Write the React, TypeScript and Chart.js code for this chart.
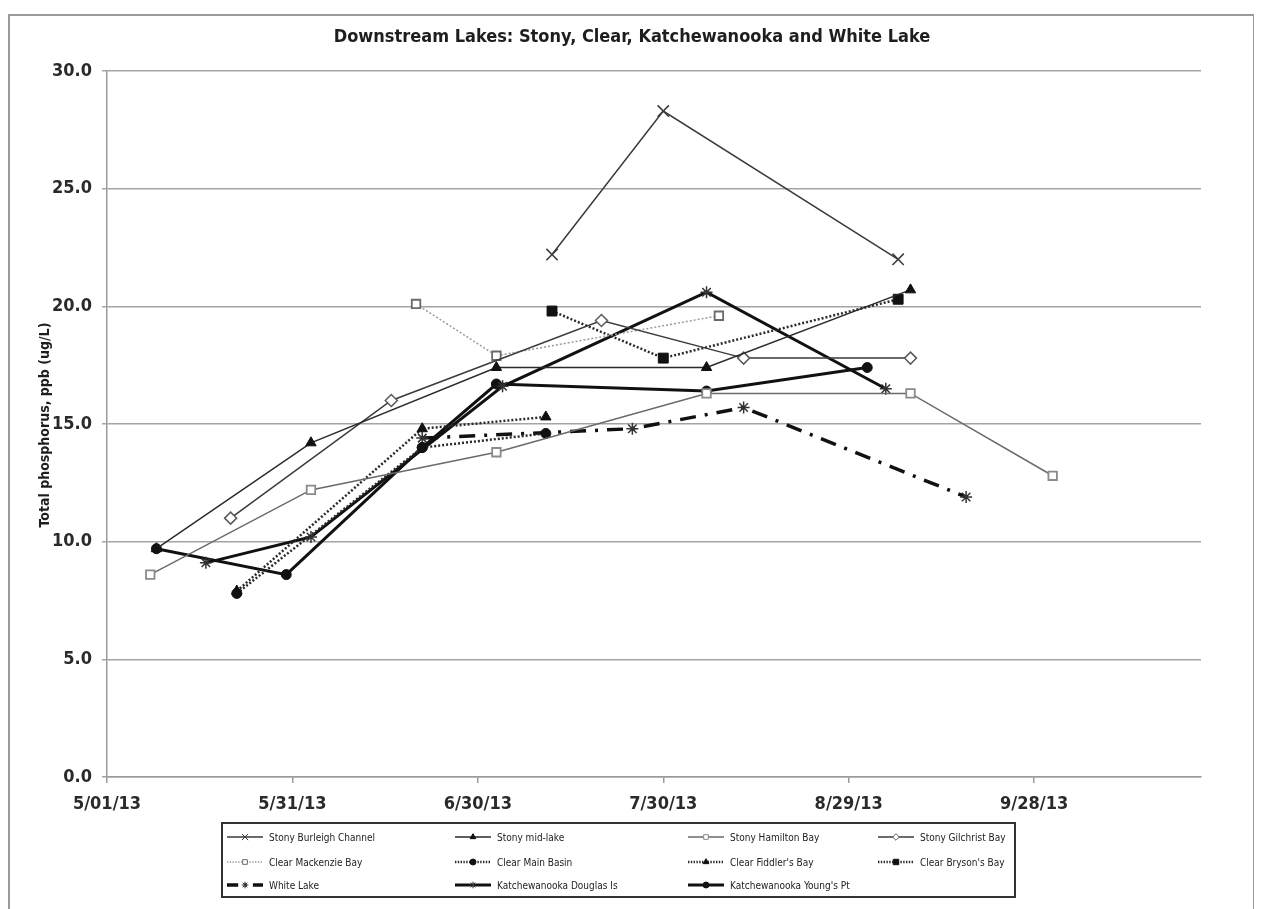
import React, { useEffect, useRef } from 'react';
import { Chart, registerables } from 'chart.js';
import { drawPoint } from 'chart.js/helpers';

Chart.register(...registerables);

const FONT = "'Liberation Sans Narrow', 'DejaVu Sans Condensed', 'Liberation Sans', Arial, sans-serif";

const chartTitle = 'Downstream Lakes: Stony, Clear, Katchewanooka and White Lake';
const yAxisTitle = 'Total phosphorus, ppb (ug/L)';
const xTickLabels = ['5/01/13', '5/31/13', '6/30/13', '7/30/13', '8/29/13', '9/28/13'];
const xTickStepDays = 30;
const xMaxDays = 177;
const yMin = 0;
const yMax = 30;
const yStep = 5;

// sampling dates (2013, M/DD) and total phosphorus values (ug/L)
const burleighDates = ['7/12', '7/30', '9/06'];
const burleighValues = [22.2, 28.3, 22.0];

const midLakeDates = ['5/09', '6/03', '7/03', '8/06', '9/08'];
const midLakeValues = [9.7, 14.2, 17.4, 17.4, 20.7];

const hamiltonDates = ['5/08', '6/03', '7/03', '8/06', '9/08', '10/01'];
const hamiltonValues = [8.6, 12.2, 13.8, 16.3, 16.3, 12.8];

const gilchristDates = ['5/21', '6/16', '7/20', '8/12', '9/08'];
const gilchristValues = [11.0, 16.0, 19.4, 17.8, 17.8];

const mackenzieDates = ['6/20', '7/03', '8/08'];
const mackenzieValues = [20.1, 17.9, 19.6];

const mainBasinDates = ['5/22', '6/21', '7/11'];
const mainBasinValues = [7.8, 14.0, 14.6];

const fiddlerDates = ['5/22', '6/21', '7/11'];
const fiddlerValues = [7.9, 14.8, 15.3];

const brysonDates = ['7/12', '7/30', '9/06'];
const brysonValues = [19.8, 17.8, 20.3];

const whiteLakeDates = ['6/21', '7/25', '8/12', '9/17'];
const whiteLakeValues = [14.4, 14.8, 15.7, 11.9];

const douglasDates = ['5/17', '6/03', '7/04', '8/06', '9/04'];
const douglasValues = [9.1, 10.2, 16.6, 20.6, 16.5];

const youngsDates = ['5/09', '5/30', '6/21', '7/03', '8/06', '9/01'];
const youngsValues = [9.7, 8.6, 14.0, 16.7, 16.4, 17.4];

const seriesNames = [
  'Stony Burleigh Channel', 'Stony mid-lake', 'Stony Hamilton Bay', 'Stony Gilchrist Bay',
  'Clear Mackenzie Bay', 'Clear Main Basin', "Clear Fiddler's Bay", "Clear Bryson's Bay",
  'White Lake', 'Katchewanooka Douglas Is', "Katchewanooka Young's Pt",
];

const dayOf = (md: string) => {
  const [m, d] = md.split('/').map(Number);
  return (Date.UTC(2013, m - 1, d) - Date.UTC(2013, 4, 1)) / 86400000;
};
const pts = (dates: string[], vals: number[]) => dates.map((d, i) => ({ x: dayOf(d), y: vals[i] }));

type Style = {
  color: string; width: number; dash: number[]; point: string; radius: number;
  pFill: string; pBorder: string; pWidth: number;
};

const styles: Style[] = [
  { color: '#3a3a3a', width: 1.5, dash: [], point: 'crossRot', radius: 8, pFill: '#3a3a3a', pBorder: '#3a3a3a', pWidth: 1.5 },
  { color: '#2a2a2a', width: 1.5, dash: [], point: 'triangle', radius: 6, pFill: '#111', pBorder: '#111', pWidth: 1 },
  { color: '#6a6a6a', width: 1.5, dash: [], point: 'rect', radius: 6, pFill: '#fff', pBorder: '#8a8a8a', pWidth: 1.8 },
  { color: '#3a3a3a', width: 1.5, dash: [], point: 'rectRot', radius: 6, pFill: '#fff', pBorder: '#5a5a5a', pWidth: 1.5 },
  { color: '#9a9a9a', width: 1.5, dash: [2, 2], point: 'rect', radius: 6, pFill: '#fff', pBorder: '#6a6a6a', pWidth: 1.8 },
  { color: '#2a2a2a', width: 2.5, dash: [2, 2], point: 'circle', radius: 5, pFill: '#111', pBorder: '#111', pWidth: 1 },
  { color: '#2a2a2a', width: 2.5, dash: [2, 2], point: 'triangle', radius: 6, pFill: '#111', pBorder: '#111', pWidth: 1 },
  { color: '#2a2a2a', width: 2.5, dash: [2, 2], point: 'rect', radius: 7, pFill: '#111', pBorder: '#111', pWidth: 1 },
  { color: '#111', width: 3.5, dash: [16, 9, 3, 9], point: 'star', radius: 6, pFill: '#333', pBorder: '#333', pWidth: 1.5 },
  { color: '#111', width: 3, dash: [], point: 'star', radius: 6, pFill: '#333', pBorder: '#333', pWidth: 1.5 },
  { color: '#111', width: 3, dash: [], point: 'circle', radius: 5, pFill: '#111', pBorder: '#111', pWidth: 1 },
];

const seriesData = [
  pts(burleighDates, burleighValues),
  pts(midLakeDates, midLakeValues),
  pts(hamiltonDates, hamiltonValues),
  pts(gilchristDates, gilchristValues),
  pts(mackenzieDates, mackenzieValues),
  pts(mainBasinDates, mainBasinValues),
  pts(fiddlerDates, fiddlerValues),
  pts(brysonDates, brysonValues),
  pts(whiteLakeDates, whiteLakeValues),
  pts(douglasDates, douglasValues),
  pts(youngsDates, youngsValues),
];

const CANVAS_W = 1243;
const CANVAS_H = 891;

const overlayPlugin = {
  id: 'overlay',
  afterDraw(chart: any) {
    const ctx = chart.ctx as CanvasRenderingContext2D;
    ctx.save();
    ctx.fillStyle = '#1e1e1e';
    ctx.textAlign = 'center';
    ctx.textBaseline = 'middle';
    ctx.font = `bold 18px ${FONT}`;
    ctx.fillText(chartTitle, 622, 21);
    ctx.save();
    ctx.translate(35, 409);
    ctx.rotate(-Math.PI / 2);
    ctx.font = `bold 14px ${FONT}`;
    ctx.fillText(yAxisTitle, 0, 0);
    ctx.restore();

    // legend box
    const bx = 212, by = 807, bw = 793, bh = 74;
    ctx.strokeStyle = '#333';
    ctx.lineWidth = 2;
    ctx.strokeRect(bx, by, bw, bh);
    const colX = [217, 445, 678, 868];
    const rowY = [821, 846, 869];
    const sampleLen = 36;
    ctx.textAlign = 'left';
    ctx.font = `10px ${FONT}`;
    seriesNames.forEach((name, i) => {
      const st = styles[i];
      const x0 = colX[i % 4];
      const y0 = rowY[Math.floor(i / 4)];
      ctx.save();
      ctx.strokeStyle = st.color;
      ctx.lineWidth = st.width;
      ctx.setLineDash(st.dash.length ? st.dash.map((v) => v * 0.7) : []);
      ctx.beginPath();
      ctx.moveTo(x0, y0);
      ctx.lineTo(x0 + sampleLen, y0);
      ctx.stroke();
      ctx.setLineDash([]);
      ctx.fillStyle = st.pFill;
      ctx.strokeStyle = st.pBorder;
      ctx.lineWidth = 1;
      drawPoint(ctx, { pointStyle: st.point as any, rotation: 0, radius: Math.max(3, st.radius * 0.55), borderWidth: 1 }, x0 + sampleLen / 2, y0);
      ctx.restore();
      ctx.fillStyle = '#222';
      ctx.fillText(name, x0 + sampleLen + 6, y0 + 1);
    });
    ctx.restore();
  },
};

export default function App() {
  const ref = useRef<HTMLCanvasElement | null>(null);
  useEffect(() => {
    if (!ref.current) return;
    const chart = new Chart(ref.current, {
      type: 'line',
      data: {
        datasets: seriesData.map((d, i) => ({
          label: seriesNames[i],
          data: d,
          borderColor: styles[i].color,
          borderWidth: styles[i].width,
          borderDash: styles[i].dash,
          pointStyle: styles[i].point as any,
          pointRadius: styles[i].radius,
          pointBackgroundColor: styles[i].pFill,
          pointBorderColor: styles[i].pBorder,
          pointBorderWidth: styles[i].pWidth,
          fill: false,
          tension: 0,
        })),
      },
      options: {
        responsive: false,
        animation: false,
        devicePixelRatio: 1,
        layout: { padding: { top: 55, right: 52, bottom: 0, left: 0 } },
        plugins: { legend: { display: false }, title: { display: false }, tooltip: { enabled: false } },
        scales: {
          x: {
            type: 'linear',
            min: 0,
            max: xMaxDays,
            afterFit: (s: any) => { s.height = 130; },
            afterBuildTicks: (s: any) => {
              s.ticks = s.ticks.filter((t: any) => t.value % xTickStepDays === 0);
            },
            ticks: {
              stepSize: xTickStepDays,
              autoSkip: false,
              maxRotation: 0,
              padding: 11,
              color: '#2a2a2a',
              font: { family: FONT, size: 18, weight: 'bold' },
              callback: (v: any) => xTickLabels[Math.round(Number(v) / xTickStepDays)] ?? '',
            },
            grid: { drawOnChartArea: false, drawTicks: true, tickLength: 6, color: '#9a9a9a', lineWidth: 1.5 },
            border: { color: '#9a9a9a', width: 1.5 },
          },
          y: {
            min: yMin,
            max: yMax,
            afterFit: (s: any) => { s.width = 97; },
            ticks: {
              stepSize: yStep,
              padding: 10,
              color: '#2a2a2a',
              font: { family: FONT, size: 18, weight: 'bold' },
              callback: (v: any) => Number(v).toFixed(1),
            },
            grid: { color: '#a4a4a4', lineWidth: 1.5, drawTicks: true, tickLength: 5 },
            border: { color: '#9a9a9a', width: 1.5 },
          },
        },
      },
      plugins: [overlayPlugin],
    });
    return () => chart.destroy();
  }, []);
  return (
    <div style={{ paddingTop: 6 }}>
      <div style={{ width: 1247, height: 905, border: '2px solid #9a9a9a', boxSizing: 'border-box', background: '#fff' }}>
        <canvas ref={ref} width={CANVAS_W} height={CANVAS_H} style={{ display: 'block' }} />
      </div>
    </div>
  );
}
